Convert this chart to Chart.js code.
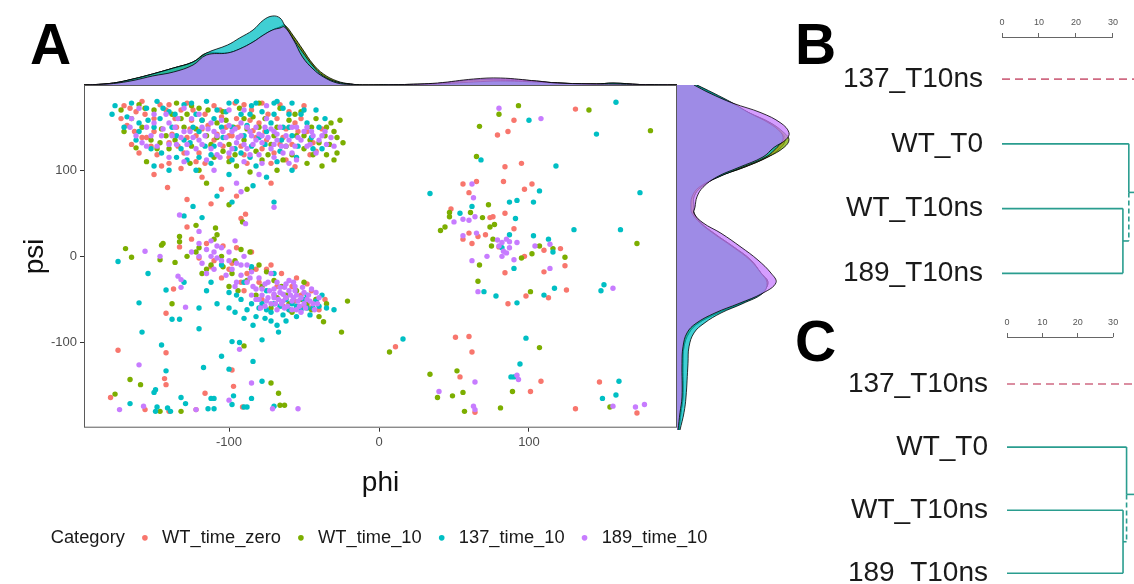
<!DOCTYPE html>
<html>
<head>
<meta charset="utf-8">
<script src="https://cdn.jsdelivr.net/npm/chart.js@4.4.1/dist/chart.umd.min.js"></script>
<style>
  body { margin: 0; background: #fff; width: 1134px; height: 584px; overflow: hidden; position: relative; font-family: 'Liberation Sans', Arial, sans-serif; }
  canvas, .panel-letter { position: absolute; }
  .panel-letter { font-weight: bold; font-size: 57px; line-height: 56px; color: #000; }
</style>
</head>
<body>
<div class="panel-letter" style="left:30px;top:16px">A</div>
<div class="panel-letter" style="left:795px;top:16px">B</div>
<div class="panel-letter" style="left:795px;top:313px">C</div>
<canvas id="scatter" style="left:0;top:80px" width="733" height="490"></canvas>
<canvas id="topDens" style="left:84px;top:10px" width="593" height="75"></canvas>
<canvas id="rightDens" style="left:677px;top:85px" width="123" height="345"></canvas>
<canvas id="dendroB" style="left:780px;top:0" width="354" height="310"></canvas>
<canvas id="dendroC" style="left:780px;top:300px" width="354" height="284"></canvas>
<script>
// --- Panel A data: [phi, psi] per residue ---
const seriesNames = ['WT_time_zero', 'WT_time_10', '137_time_10', '189_time_10'];

const wtZero = [
  [-170,175],[-162,168],[-158,180],[-150,160],[-168,152],[-163,145],[-155,138],[-140,176],[-132,170],[-125,158],
  [-118,148],[-110,175],[-105,162],[-98,140],[-92,128],[-85,170],[-80,155],[-75,135],[-70,120],[-66,176],
  [-62,148],[-58,130],[-52,160],[-46,118],[-140,132],[-130,120],[-122,110],[-112,128],[-100,115],[-88,108],
  [-148,118],[-135,150],[-128,138],[-108,142],[-95,160],[-78,178],[-60,168],[-56,104],[-150,95],[-140,108],
  [-165,130],[-160,120],[-145,105],[-138,142],[-126,148],[-116,165],[-102,150],[-96,178],[-86,158],[-76,145],
  [-68,160],[-64,138],[-54,145],[-50,175],[-44,132],[-150,145],[-142,170],[-120,120],[-110,135],[-90,118],
  [-82,138],[-72,108],[-158,138],[-128,178],[-104,128],
  [-172,160],[-166,172],[-156,165],[-152,128],[-146,176],[-136,160],[-134,128],[-124,170],[-122,140],[-114,152],
  [-106,170],[-100,140],[-94,150],[-90,176],[-84,146],[-78,125],[-74,165],[-66,130],[-62,112],[-56,155],
  [-48,145],[-42,122],[-38,148],[-116,108],[-132,102],
  [-128,66],[-112,61],[-89,49],[-92,44],[-128,34],[-133,11],[-141,80],[-118,92],[-105,78],[-72,85],[-95,70],
  [-137,-38],[-142,-66],[-110,-5],[-100,-15],[-95,10],[-88,-20],[-80,-30],[-72,-10],[-68,-35],[-62,-48],
  [-55,-25],[-50,-58],[-45,-40],[-40,-62],[-115,15],[-105,-25],[-78,-50],[-58,-35],[-85,5],[-90,-40],
  [-75,-15],[-65,-20],[-52,-45],[-48,-32],[-42,-50],[-120,-2],[-104,12],[-60,-62],
  [-125,20],[-112,-12],[-98,-8],[-92,-30],[-82,-15],[-70,-45],[-64,-58],[-56,-52],[-46,-60],[-36,-50],
  [-174,-109],[-142,-112],[-143,-142],[-142,-149],[-116,-159],[-179,-164],[-156,-178],[-97,-151],[-98,-132],
  [-91,-175],[-140,-180],[-122,-178],
  [90,158],[131,171],[86,145],[79,141],[84,104],[95,108],[83,87],[102,84],[97,78],[56,84],[65,87],[60,74],
  [48,55],[74,45],[76,46],[84,50],[90,32],[60,27],[56,20],[66,23],[71,25],[62,15],[80,11],[110,7],[121,9],
  [124,-11],[97,0],[84,-19],[110,-18],[98,-46],[113,-48],[125,-39],[86,-55],[11,-105],[51,-94],[60,-93],
  [62,-111],[54,-140],[108,-145],[101,-157],[64,-181],[131,-177],[147,-146],[172,-182]
];

const wtTen = [
  [-172,170],[-160,176],[-150,170],[-145,148],[-138,165],[-130,150],[-120,172],[-115,140],[-108,155],[-100,130],
  [-93,172],[-88,148],[-82,122],[-76,160],[-70,140],[-64,112],[-60,158],[-55,140],[-50,125],[-45,150],
  [-40,132],[-35,118],[-30,145],[-26,158],[-28,120],[-38,105],[-48,108],[-125,128],[-140,125],[-110,115],
  [-95,105],[-152,135],[-158,150],[-135,178],[-80,178],[-68,100],
  [-165,160],[-148,125],[-142,140],[-132,160],[-125,175],[-118,158],[-112,130],[-104,168],[-97,150],[-90,135],
  [-84,162],[-78,112],[-72,130],[-66,172],[-58,118],[-52,168],[-46,135],[-42,160],[-33,130],[-28,138],
  [-35,150],[-155,110],[-120,100],[-100,110],[-86,98],
  [-170,145],[-162,126],[-156,172],[-146,132],[-136,135],[-128,165],[-122,148],[-114,170],[-108,138],[-102,158],
  [-96,118],[-90,160],[-80,150],[-74,118],[-68,150],[-62,128],[-56,165],[-50,140],[-44,118],[-36,140],
  [-32,155],[-24,132],[-30,112],[-126,108],[-104,122],
  [-100,60],[-91,40],[-122,36],[-109,33],[-133,23],[-133,17],[-144,15],[-145,13],[-115,85],[-88,78],
  [-169,9],[-165,-1],[-146,-4],[-136,-7],[-138,-55],[-120,10],[-112,-10],[-105,0],[-98,-20],[-92,8],
  [-85,-15],[-78,-35],[-70,-28],[-62,-45],[-55,-40],[-48,-55],[-42,-50],[-21,-52],[-37,-76],[-25,-88],
  [-110,20],[-100,-35],[-118,-20],[-108,25],[-96,-5],[-88,-28],[-82,-45],[-75,-18],[-68,-48],[-60,-55],
  [-50,-30],[-45,-62],[-122,5],[-115,-15],[-40,-70],
  [-128,0],[-104,-12],[-94,-40],[-86,5],[-80,-10],[-72,-60],[-65,-35],[-58,-65],[-52,-50],[-35,-55],
  [-90,-104],[-166,-143],[-159,-149],[-176,-160],[-146,-180],[-132,-180],[-72,-147],[-67,-159],[-66,-173],[-63,-173],
  [93,175],[80,165],[140,170],[181,146],[67,151],[65,116],[73,60],[47,51],[61,51],[47,46],[44,34],[41,30],
  [69,45],[74,34],[77,37],[76,20],[75,12],[107,12],[116,9],[124,-1],[102,3],[95,-2],[67,-10],[66,-29],
  [101,-41],[172,15],[7,-111],[107,-106],[34,-137],[52,-133],[89,-157],[39,-164],[49,-162],[56,-158],
  [57,-180],[81,-176],[154,-175]
];

const mut137 = [
  [-178,165],[-165,178],[-155,172],[-148,180],[-140,168],[-130,176],[-122,165],[-115,180],[-108,170],[-100,178],
  [-92,165],[-85,175],[-78,168],[-70,178],[-64,172],[-58,178],[-52,165],[-60,150],[-75,145],[-90,140],
  [-105,150],[-120,145],[-135,140],[-150,150],[-160,155],[-145,120],[-128,112],[-112,108],[-98,112],[-82,105],
  [-68,110],[-55,115],[-45,138],[-40,150],[-140,100],[-122,100],[-100,95],[-75,92],[-110,128],[-85,128],[-65,135],
  [-170,150],[-162,135],[-152,125],[-146,160],[-138,150],[-132,125],[-126,132],[-118,158],[-112,118],[-104,138],
  [-96,125],[-88,152],[-80,138],[-72,155],[-66,122],[-60,165],[-54,128],[-48,155],[-42,170],[-38,125],
  [-125,178],[-95,180],[-68,180],[-150,105],[-86,115],
  [-176,175],[-168,162],[-160,145],[-154,158],[-144,172],[-136,165],[-130,135],[-124,150],[-116,128],[-110,160],
  [-102,168],[-98,150],[-92,120],[-86,165],[-82,178],[-76,130],[-70,165],[-64,150],[-58,140],[-50,170],
  [-44,125],[-36,160],[-120,115],[-135,115],[-58,100],
  [-124,58],[-98,63],[-70,63],[-130,47],[-84,82],[-108,70],[-118,45],
  [-174,-6],[-154,-20],[-160,-54],[-142,-39],[-138,-73],[-133,-73],[-120,-84],[-158,-88],[-115,-40],[-108,-55],
  [-100,-60],[-95,-45],[-88,-62],[-82,-70],[-78,-55],[-72,-65],[-66,-58],[-60,-62],[-55,-70],[-48,-60],
  [-42,-52],[-35,-60],[-90,-30],[-75,-40],[-62,-50],[-68,-80],[-78,-97],[-67,-88],[-105,-10],[-85,-12],
  [-70,-20],[-80,-60],[-75,-62],[-70,-55],[-64,-68],[-58,-55],[-52,-62],[-46,-68],[-40,-58],[-85,-55],
  [-92,-50],[-100,-42],[-112,-30],[-62,-75],[-55,-58],[-48,-45],[-38,-45],
  [-96,-65],[-90,-72],[-84,-80],[-76,-72],[-72,-75],[-50,-50],[-44,-60],[-30,-62],[-120,-60],[-130,-30],
  [-145,-103],[-142,-133],[-117,-129],[-149,-155],[-150,-158],[-166,-171],[-148,-175],[-149,-180],[-141,-176],
  [-139,-180],[-132,-164],[-129,-171],[-114,-177],[-110,-177],[-112,-165],[-110,-165],[-98,-172],[-97,-162],
  [-100,-131],[-105,-116],[-98,-99],[-93,-100],[-84,-122],[-85,-165],[-78,-145],[-90,-175],[-88,-175],[-70,-174],
  [100,158],[158,179],[145,142],[68,112],[118,105],[107,76],[34,73],[174,74],[87,63],[92,65],[103,63],[62,58],
  [54,50],[91,44],[87,25],[103,24],[113,20],[82,10],[116,5],[90,-14],[70,-41],[78,-46],[110,-45],[117,-37],
  [92,-54],[130,31],[161,31],[150,-33],[148,-40],[16,-96],[98,-95],[94,-125],[88,-140],[90,-140],[160,-145],
  [149,-165],[158,-161]
];

const mut189 = [
  [-165,160],[-155,150],[-150,165],[-145,140],[-140,155],[-135,130],[-130,145],[-125,160],[-120,135],[-118,150],
  [-112,125],[-108,140],[-105,158],[-100,120],[-98,145],[-95,132],[-92,155],[-88,125],[-85,140],[-82,150],
  [-80,118],[-78,132],[-75,160],[-72,125],[-70,145],[-68,135],[-65,128],[-62,140],[-58,120],[-55,150],
  [-52,135],[-48,128],[-45,145],[-42,120],[-38,140],[-115,112],[-128,120],[-140,115],[-90,110],[-60,108],
  [-100,170],[-130,172],[-75,175],[-155,128],[-162,140],[-35,130],[-110,100],[-80,95],[-95,85],
  [-160,172],[-152,140],[-148,128],[-142,165],[-136,150],[-132,138],[-126,145],[-122,125],[-116,140],[-112,155],
  [-106,130],[-102,138],[-96,148],[-92,140],[-88,150],[-84,130],[-80,142],[-76,150],[-74,138],[-70,130],
  [-66,150],[-64,120],[-60,135],[-56,128],[-50,145],[-46,130],[-40,135],[-32,138],[-140,130],[-108,118],
  [-98,125],[-86,118],[-70,115],[-55,112],[-120,165],[-90,170],
  [-166,150],[-158,132],[-150,155],[-144,148],[-138,140],[-134,160],[-128,130],[-124,138],[-118,130],[-114,148],
  [-110,145],[-104,145],[-100,152],[-94,138],[-90,130],[-86,145],[-82,135],[-78,140],[-72,148],[-68,142],
  [-62,128],[-58,150],[-54,138],[-48,150],[-44,140],[-36,145],[-30,128],[-106,115],[-130,110],[-78,108],
  [-133,48],[-70,57],[-89,38],[-120,29],[-92,75],
  [-156,6],[-146,0],[-134,-23],[-132,-27],[-132,-36],[-129,-59],[-120,15],[-115,8],[-112,0],[-108,12],
  [-105,-5],[-100,5],[-98,-15],[-95,-8],[-92,-22],[-90,0],[-88,-30],[-85,-18],[-82,-38],[-80,-25],
  [-78,-45],[-76,-32],[-75,-52],[-73,-40],[-70,-48],[-68,-30],[-66,-42],[-65,-55],[-63,-36],[-62,-48],
  [-60,-40],[-58,-52],[-56,-35],[-55,-45],[-53,-58],[-50,-42],[-48,-50],[-45,-38],[-43,-62],[-40,-48],
  [-72,-20],[-85,-45],[-95,-30],[-110,-15],[-118,-8],[-60,-28],[-52,-65],
  [-78,-38],[-74,-48],[-72,-55],[-70,-38],[-67,-50],[-64,-44],[-61,-58],[-59,-45],[-57,-30],[-54,-52],
  [-51,-36],[-49,-60],[-47,-45],[-44,-55],[-42,-42],[-76,-58],[-68,-62],[-58,-62],[-62,-32],[-80,-50],
  [-66,-36],[-52,-48],[-56,-40],[-64,-52],[-70,-44],[-74,-30],[-84,-35],[-88,-10],[-100,-5],[-105,10],
  [-112,18],[-96,18],
  [-115,-20],[-108,-2],[-102,-22],[-96,-35],[-92,-10],[-86,-25],[-82,-50],[-79,-60],[-69,-55],[-63,-60],
  [-57,-48],[-55,-62],[-50,-55],[-46,-52],[-41,-55],[-120,0],[-125,5],[-110,5],
  [-160,-126],[-93,-108],[-85,-147],[-100,-167],[-173,-178],[-157,-174],[-122,-178],[-71,-177],[-54,-177],
  [80,172],[108,160],[62,84],[63,68],[50,40],[56,43],[64,46],[60,42],[56,24],[65,27],[79,19],[82,16],
  [85,20],[87,17],[92,16],[80,12],[83,6],[85,4],[87,10],[82,0],[104,12],[114,14],[90,-4],[72,0],[62,-5],
  [114,-14],[66,-41],[156,-37],[92,-138],[93,-143],[64,-146],[40,-157],[63,-174],[64,-178],[156,-174],
  [171,-175],[177,-172]
];

const seriesData = [wtZero, wtTen, mut137, mut189];
const phiTicks = [-100, 0, 100];
const psiTicks = [-100, 0, 100];
const phiRange = [-196.7, 198.7];
const psiRange = [-199, 199];

// marginal densities (phi on top, psi on the right), x 1e-4
const phiGrid = [-197, -191, -177, -164, -151, -137, -124, -115, -101, -93, -84, -77, -71, -66, -63, -57, -51, -44, -37, -28, -19, -11, 17, 39, 63, 81, 105, 119, 145, 156, 174, 199];
const phiDensity = [
  [0, 0.3, 2, 6, 11, 17, 23, 31, 32, 36, 43, 50, 55, 58, 59, 48, 35, 20, 10, 3, 1, 0, 0.5, 1.5, 5, 6, 4, 2, 1, 1.5, 0.5, 0],
  [0, 0.3, 2, 6, 11, 17, 23, 32, 32, 36, 43, 50, 55, 58, 60, 49, 36, 21, 11, 4, 1, 0, 0.5, 1.5, 5, 5, 3, 2, 1, 2, 0.5, 0],
  [0, 0.3, 2, 6, 11, 17, 23, 32, 40, 47, 55, 65, 69, 67, 60, 46, 33, 19, 9, 3, 1, 0, 0.5, 1, 3, 4, 3, 2, 1, 2, 0.5, 0],
  [0, 0.2, 1.5, 4.5, 9, 13, 20, 30, 32, 36, 43, 50, 55, 57, 58, 45, 28, 16, 8, 2, 0.5, 0, 0.5, 2, 6, 7, 4, 2, 1, 1, 0.5, 0]
];
const psiGrid = [-199, -179, -161, -122, -103, -87, -76, -64, -53, -41, -29, -18, -3, 12, 28, 40, 51, 58, 70, 81, 93, 104, 116, 127, 136, 144, 155, 167, 178, 190, 199];
const psiDensity = [
  [2, 4, 6, 6, 7, 12, 21, 41, 64, 84, 91, 84, 74, 57, 37, 24, 17, 17, 17, 24, 41, 67, 91, 104, 108, 105, 94, 72, 54, 34, 19],
  [2, 4, 6, 6, 7, 12, 21, 41, 64, 84, 91, 84, 74, 57, 37, 24, 17, 17, 17, 24, 41, 67, 91, 107, 112, 107, 94, 72, 54, 34, 19],
  [3, 7, 9, 11, 12, 17, 27, 44, 66, 86, 90, 84, 73, 56, 36, 23, 15, 14, 15, 22, 42, 65, 89, 100, 106, 104, 92, 72, 56, 36, 20],
  [1, 3, 5, 5, 6, 10, 19, 38, 62, 86, 99, 94, 81, 64, 44, 26, 17, 18, 20, 26, 40, 62, 86, 97, 109, 112, 104, 84, 56, 32, 17]
];

// --- Panels B and C: dendrograms ---
const leafNames = ['137_T10ns', 'WT_T0', 'WT_T10ns', '189_T10ns'];
const distTicks = [0, 10, 20, 30];
const mergeB = [32.7, 34.3];   // WT_T10ns+189_T10ns join, then WT_T0 joins
const mergeC = [32.8, 33.8];
const outlierJoin = 40;        // 137_T10ns joins off the right edge

const pointColors = ['#F8766D', '#7CAE00', '#00BFC4', '#C77CFF'];
const densityFills = ['rgba(248,118,109,0.75)', 'rgba(124,174,0,0.75)', 'rgba(0,191,196,0.75)', 'rgba(199,124,255,0.75)'];
const tealLine = '#2a9d8f';
const redLine = '#cf6a82';

Chart.defaults.font.family = "'Liberation Sans', Arial, sans-serif";
Chart.defaults.animation = false;
Chart.defaults.responsive = false;
Chart.defaults.devicePixelRatio = 1;
Chart.defaults.plugins.tooltip.enabled = false;

const panelBorder = {
  id: 'panelBorder',
  afterDatasetsDraw(chart) {
    const {ctx, chartArea: a} = chart;
    ctx.save();
    ctx.strokeStyle = '#5a5a5a';
    ctx.lineWidth = 1;
    ctx.strokeRect(a.left + 0.5, a.top + 0.5, a.width - 1, a.height - 1);
    ctx.restore();
  }
};

function noLabelPadding(s) {
  s.paddingTop = 0; s.paddingBottom = 0; s.paddingLeft = 0; s.paddingRight = 0;
}

// scatter with legend
new Chart('scatter', {
  type: 'scatter',
  data: {
    datasets: seriesData.map((pts, i) => ({
      label: seriesNames[i],
      data: pts.map(p => ({x: p[0], y: p[1]})),
      backgroundColor: pointColors[i],
      borderWidth: 0,
      pointRadius: 2.7,
      order: 4 - i
    }))
  },
  options: {
    layout: {padding: {top: 5, left: 0, right: 0, bottom: 13}},
    plugins: {
      legend: {
        position: 'bottom',
        labels: {
          usePointStyle: true,
          boxWidth: 16,
          boxHeight: 4,
          padding: 12,
          color: '#1a1a1a',
          font: {size: 18.3},
          generateLabels(chart) {
            const items = Chart.defaults.plugins.legend.labels.generateLabels(chart)
              .sort((a, b) => a.datasetIndex - b.datasetIndex);
            items.forEach(it => { it.pointStyle = 'circle'; it.lineWidth = 0; it.strokeStyle = it.fillStyle; });
            return [{text: 'Category', fillStyle: 'rgba(0,0,0,0)', strokeStyle: 'rgba(0,0,0,0)', lineWidth: 0,
                     pointStyle: 'circle', hidden: false, fontColor: '#1a1a1a', datasetIndex: -1}, ...items];
          }
        }
      }
    },
    scales: {
      x: {
        type: 'linear', min: phiRange[0], max: phiRange[1],
        afterBuildTicks: s => { s.ticks = phiTicks.map(v => ({value: v})); },
        afterFit: s => { s.height = 89; noLabelPadding(s); },
        grid: {drawOnChartArea: false, drawTicks: true, tickLength: 4, color: '#333'},
        border: {display: false},
        ticks: {color: '#4d4d4d', font: {size: 13}, padding: 3, maxRotation: 0},
        title: {display: true, text: 'phi', color: '#111', font: {size: 28}, padding: {top: 0, bottom: 17}}
      },
      y: {
        type: 'linear', min: psiRange[0], max: psiRange[1],
        afterBuildTicks: s => { s.ticks = psiTicks.map(v => ({value: v})); },
        afterFit: s => { s.width = 84; noLabelPadding(s); },
        grid: {drawOnChartArea: false, drawTicks: true, tickLength: 4, color: '#333'},
        border: {display: false},
        ticks: {color: '#4d4d4d', font: {size: 13}, padding: 3},
        title: {display: true, text: 'psi', color: '#111', font: {size: 28}, padding: {top: 18, bottom: 0}}
      },
      yRight: {
        type: 'linear', position: 'right',
        afterFit: s => { s.width = 56; noLabelPadding(s); },
        grid: {display: false},
        border: {display: false},
        ticks: {display: false}
      }
    }
  },
  plugins: [panelBorder]
});

// top marginal: phi density
new Chart('topDens', {
  type: 'line',
  data: {
    datasets: phiDensity.map((vals, i) => ({
      data: phiGrid.map((p, j) => ({x: p, y: vals[j]})),
      fill: 'origin',
      backgroundColor: densityFills[i],
      borderColor: 'rgba(0,0,0,0.8)',
      borderWidth: 1,
      pointRadius: 0,
      tension: 0.4,
      order: 4 - i
    }))
  },
  options: {
    layout: {padding: 0},
    plugins: {legend: {display: false}},
    scales: {
      x: {type: 'linear', display: false, min: phiRange[0], max: phiRange[1]},
      y: {type: 'linear', display: false, min: 0, max: 75}
    }
  }
});

// right marginal: psi density
new Chart('rightDens', {
  type: 'line',
  data: {
    datasets: psiDensity.map((vals, i) => ({
      data: psiGrid.map((p, j) => ({x: vals[j], y: p})),
      fill: 'origin',
      backgroundColor: densityFills[i],
      borderColor: 'rgba(0,0,0,0.8)',
      borderWidth: 1,
      pointRadius: 0,
      tension: 0.4,
      order: 4 - i
    }))
  },
  options: {
    indexAxis: 'y',
    layout: {padding: 0},
    plugins: {legend: {display: false}},
    scales: {
      x: {type: 'linear', display: false, min: 0, max: 123},
      y: {type: 'linear', display: false, min: psiRange[0], max: psiRange[1]}
    }
  }
});

// dendrogram segments built from the merge distances; y is the leaf rank
function dendroSegments(merge) {
  const [m1, m2] = merge;
  const pairMid = (2 + 3) / 2;
  const topMid = (1 + pairMid) / 2;
  return [
    {pts: [[0, 0], [outlierJoin, 0]], color: redLine, dash: [8, 5]},
    {pts: [[0, 1], [m2, 1]], color: tealLine},
    {pts: [[0, 2], [m1, 2]], color: tealLine},
    {pts: [[0, 3], [m1, 3]], color: tealLine},
    {pts: [[m1, 2], [m1, 3]], color: tealLine},
    {pts: [[m1, pairMid], [m2, pairMid]], color: tealLine},
    {pts: [[m2, 1], [m2, topMid]], color: tealLine},
    {pts: [[m2, topMid], [m2, pairMid]], color: tealLine, dash: [5, 3]},
    {pts: [[m2, topMid], [outlierJoin, topMid]], color: tealLine}
  ];
}

const scaleLine = {
  id: 'scaleLine',
  afterDraw(chart) {
    const xs = chart.scales.x;
    const {ctx} = chart;
    ctx.save();
    ctx.strokeStyle = '#666';
    ctx.lineWidth = 1;
    ctx.beginPath();
    ctx.moveTo(xs.getPixelForValue(distTicks[0]), xs.bottom + 0.5);
    ctx.lineTo(xs.getPixelForValue(distTicks[distTicks.length - 1]), xs.bottom + 0.5);
    ctx.stroke();
    ctx.restore();
  }
};

function drawDendro(id, merge, opt) {
  new Chart(id, {
    type: 'line',
    data: {
      datasets: dendroSegments(merge).map(seg => ({
        data: seg.pts.map(p => ({x: p[0], y: p[1]})),
        borderColor: seg.color,
        borderWidth: 1.6,
        borderDash: seg.dash || [],
        pointRadius: 0,
        tension: 0,
        fill: false
      }))
    },
    options: {
      layout: {padding: 0},
      plugins: {legend: {display: false}},
      scales: {
        x: {
          type: 'linear', position: 'top', min: 0, max: opt.xMax,
          afterBuildTicks: s => { s.ticks = distTicks.map(v => ({value: v})); },
          afterFit: s => { s.height = 37; noLabelPadding(s); },
          grid: {drawOnChartArea: false, drawTicks: true, tickLength: 4, color: '#666'},
          border: {display: false},
          ticks: {color: '#555', font: {size: 9}, padding: 5, maxRotation: 0}
        },
        y: {
          type: 'linear', reverse: true, min: opt.yMin, max: opt.yMax,
          afterBuildTicks: s => { s.ticks = leafNames.map((n, i) => ({value: i})); },
          afterFit: s => { s.width = opt.labelWidth; noLabelPadding(s); },
          grid: {display: false, drawTicks: false},
          border: {display: false},
          ticks: {color: '#1a1a1a', font: {size: 28}, padding: opt.labelPad, callback: v => leafNames[v]}
        }
      }
    },
    plugins: [scaleLine]
  });
}

drawDendro('dendroB', mergeB, {xMax: 35.7, yMin: -0.65, yMax: 3.566, labelWidth: 222, labelPad: 19});
drawDendro('dendroC', mergeC, {xMax: 35.9, yMin: -0.745, yMax: 3.17, labelWidth: 227, labelPad: 19});
</script>
</body>
</html>
